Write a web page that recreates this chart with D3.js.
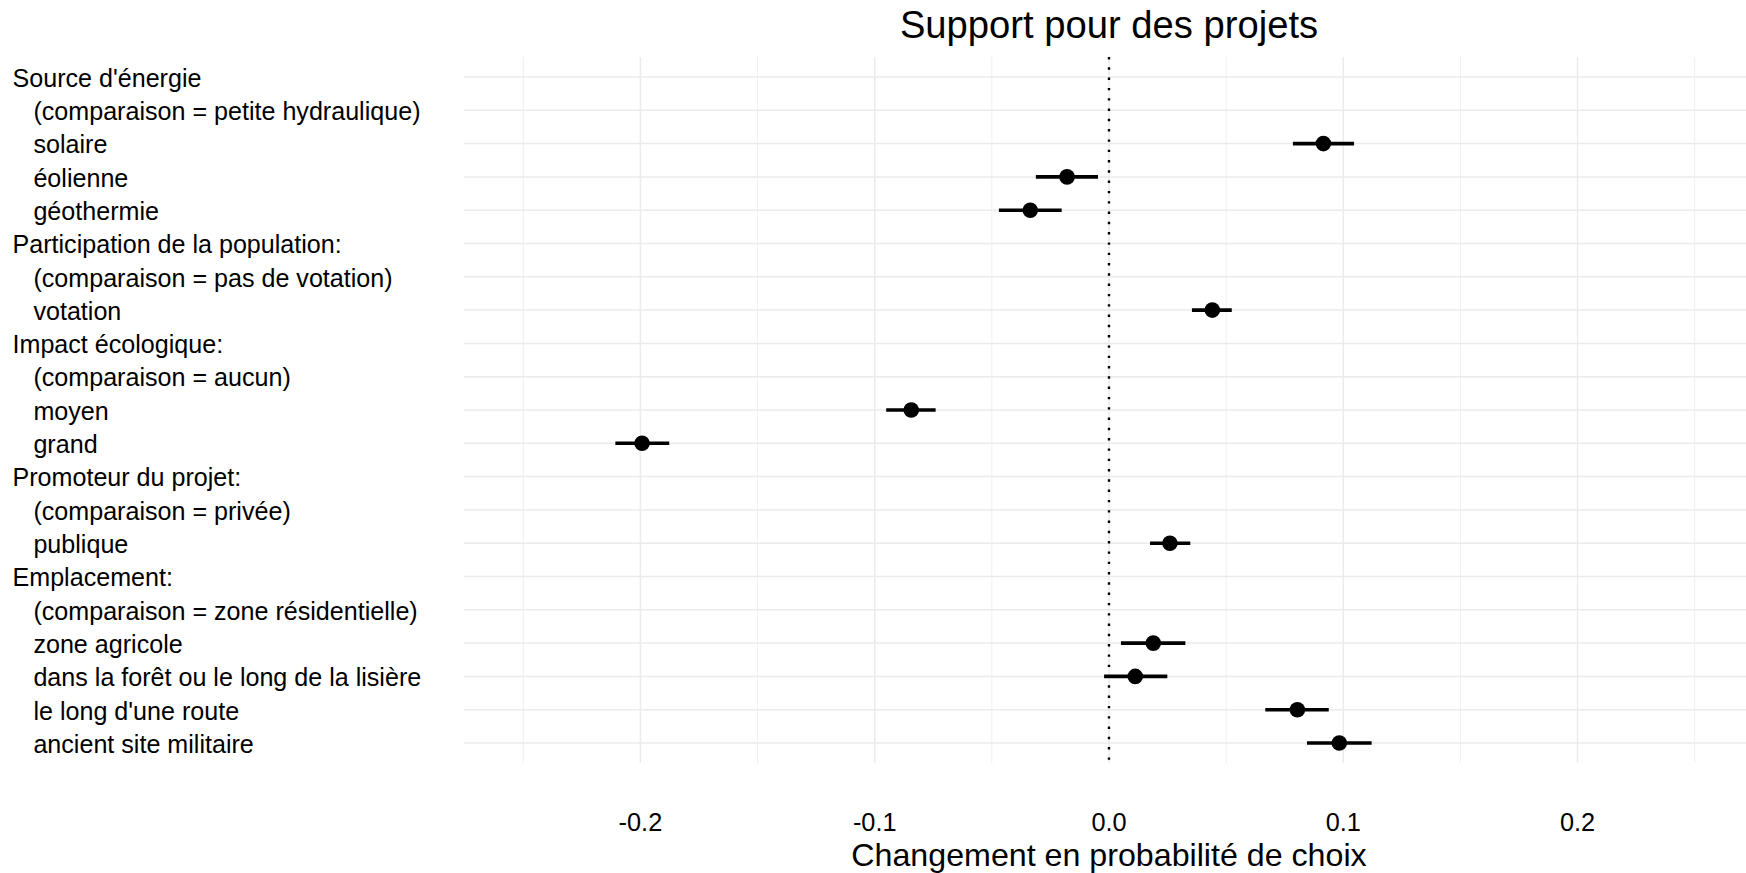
<!DOCTYPE html>
<html>
<head>
<meta charset="utf-8">
<script src="https://cdn.jsdelivr.net/npm/d3@7"></script>
<style>
  html, body { margin: 0; padding: 0; background: #fff; }
  svg { display: block; font-family: "Liberation Sans", Arial, sans-serif; }
</style>
</head>
<body>
<svg id="chart" width="1746" height="873"></svg>
<script>
// ---- data ----
const rowLabels = [
  "Source d'énergie",
  "   (comparaison = petite hydraulique)",
  "   solaire",
  "   éolienne",
  "   géothermie",
  "Participation de la population:",
  "   (comparaison = pas de votation)",
  "   votation",
  "Impact écologique:",
  "   (comparaison = aucun)",
  "   moyen",
  "   grand",
  "Promoteur du projet:",
  "   (comparaison = privée)",
  "   publique",
  "Emplacement:",
  "   (comparaison = zone résidentielle)",
  "   zone agricole",
  "   dans la forêt ou le long de la lisière",
  "   le long d'une route",
  "   ancient site militaire"
];
const estimates = [null, null, 0.0915, -0.0179, -0.0336, null, null, 0.0441, null, null, -0.0844, -0.1993, null, null, 0.0260, null, null, 0.0189, 0.0112, 0.0804, 0.0983];
const lowers    = [null, null, 0.0785, -0.0312, -0.0470, null, null, 0.0354, null, null, -0.0951, -0.2107, null, null, 0.0175, null, null, 0.0051, -0.0021, 0.0667, 0.0845];
const uppers    = [null, null, 0.1046, -0.0047, -0.0202, null, null, 0.0524, null, null, -0.0740, -0.1877, null, null, 0.0347, null, null, 0.0326, 0.0249, 0.0938, 0.1121];
const tickValues = [-0.2, -0.1, 0.0, 0.1, 0.2];
const tickLabels = ["-0.2", "-0.1", "0.0", "0.1", "0.2"];
const minorValues = [-0.25, -0.15, -0.05, 0.05, 0.15, 0.25];
const titleText = "Support pour des projets";
const xTitleText = "Changement en probabilité de choix";
const xDomain = [-0.2753, 0.2753];

// ---- layout ----
const svg = d3.select("#chart");
const panel = { left: 464, right: 1754, top: 57, bottom: 763 };

const x = d3.scaleLinear().domain(xDomain).range([panel.left, panel.right]);
const y = d3.scalePoint().domain(rowLabels).range([panel.top, panel.bottom]).padding(0.6);

const rows = rowLabels.map((l, i) => ({ label: l, est: estimates[i], lo: lowers[i], hi: uppers[i] }));

// grid
const grid = svg.append("g");
grid.selectAll("line.minor").data(minorValues).join("line")
  .attr("x1", d => x(d)).attr("x2", d => x(d))
  .attr("y1", panel.top).attr("y2", panel.bottom)
  .attr("stroke", "#ebebeb").attr("stroke-width", 0.8);
grid.selectAll("line.majorx").data(tickValues).join("line")
  .attr("x1", d => x(d)).attr("x2", d => x(d))
  .attr("y1", panel.top).attr("y2", panel.bottom)
  .attr("stroke", "#ebebeb").attr("stroke-width", 1.5);
grid.selectAll("line.majory").data(rowLabels).join("line")
  .attr("x1", panel.left).attr("x2", panel.right)
  .attr("y1", d => y(d)).attr("y2", d => y(d))
  .attr("stroke", "#ebebeb").attr("stroke-width", 1.5);

// zero reference line (dotted)
svg.append("line")
  .attr("x1", x(0)).attr("x2", x(0))
  .attr("y1", panel.top).attr("y2", panel.bottom)
  .attr("stroke", "#000").attr("stroke-width", 2.4)
  .attr("stroke-dasharray", "2.4 7.9");

// error bars and points
const est = rows.filter(r => r.est !== null);
svg.selectAll("line.ci").data(est).join("line")
  .attr("x1", d => x(d.lo)).attr("x2", d => x(d.hi))
  .attr("y1", d => y(d.label)).attr("y2", d => y(d.label))
  .attr("stroke", "#000").attr("stroke-width", 3.6);
svg.selectAll("circle.pt").data(est).join("circle")
  .attr("cx", d => x(d.est)).attr("cy", d => y(d.label))
  .attr("r", 7.8).attr("fill", "#000");

// y labels
svg.append("g").selectAll("text").data(rowLabels).join("text")
  .attr("x", 12.5)
  .attr("y", d => y(d) + 9.8)
  .attr("xml:space", "preserve")
  .style("white-space", "pre")
  .attr("font-size", 25.1)
  .attr("fill", "#000")
  .text(d => d);

// x tick labels
svg.append("g").selectAll("text").data(tickValues).join("text")
  .attr("x", d => x(d))
  .attr("y", 831)
  .attr("text-anchor", "middle")
  .attr("font-size", 25.3)
  .attr("fill", "#000")
  .text((d, i) => tickLabels[i]);

// x title
svg.append("text")
  .attr("x", x(0)).attr("y", 866)
  .attr("text-anchor", "middle")
  .attr("font-size", 32.2)
  .attr("fill", "#000")
  .text(xTitleText);

// title
svg.append("text")
  .attr("x", x(0)).attr("y", 38)
  .attr("text-anchor", "middle")
  .attr("font-size", 38.2)
  .attr("fill", "#000")
  .text(titleText);
</script>
</body>
</html>
